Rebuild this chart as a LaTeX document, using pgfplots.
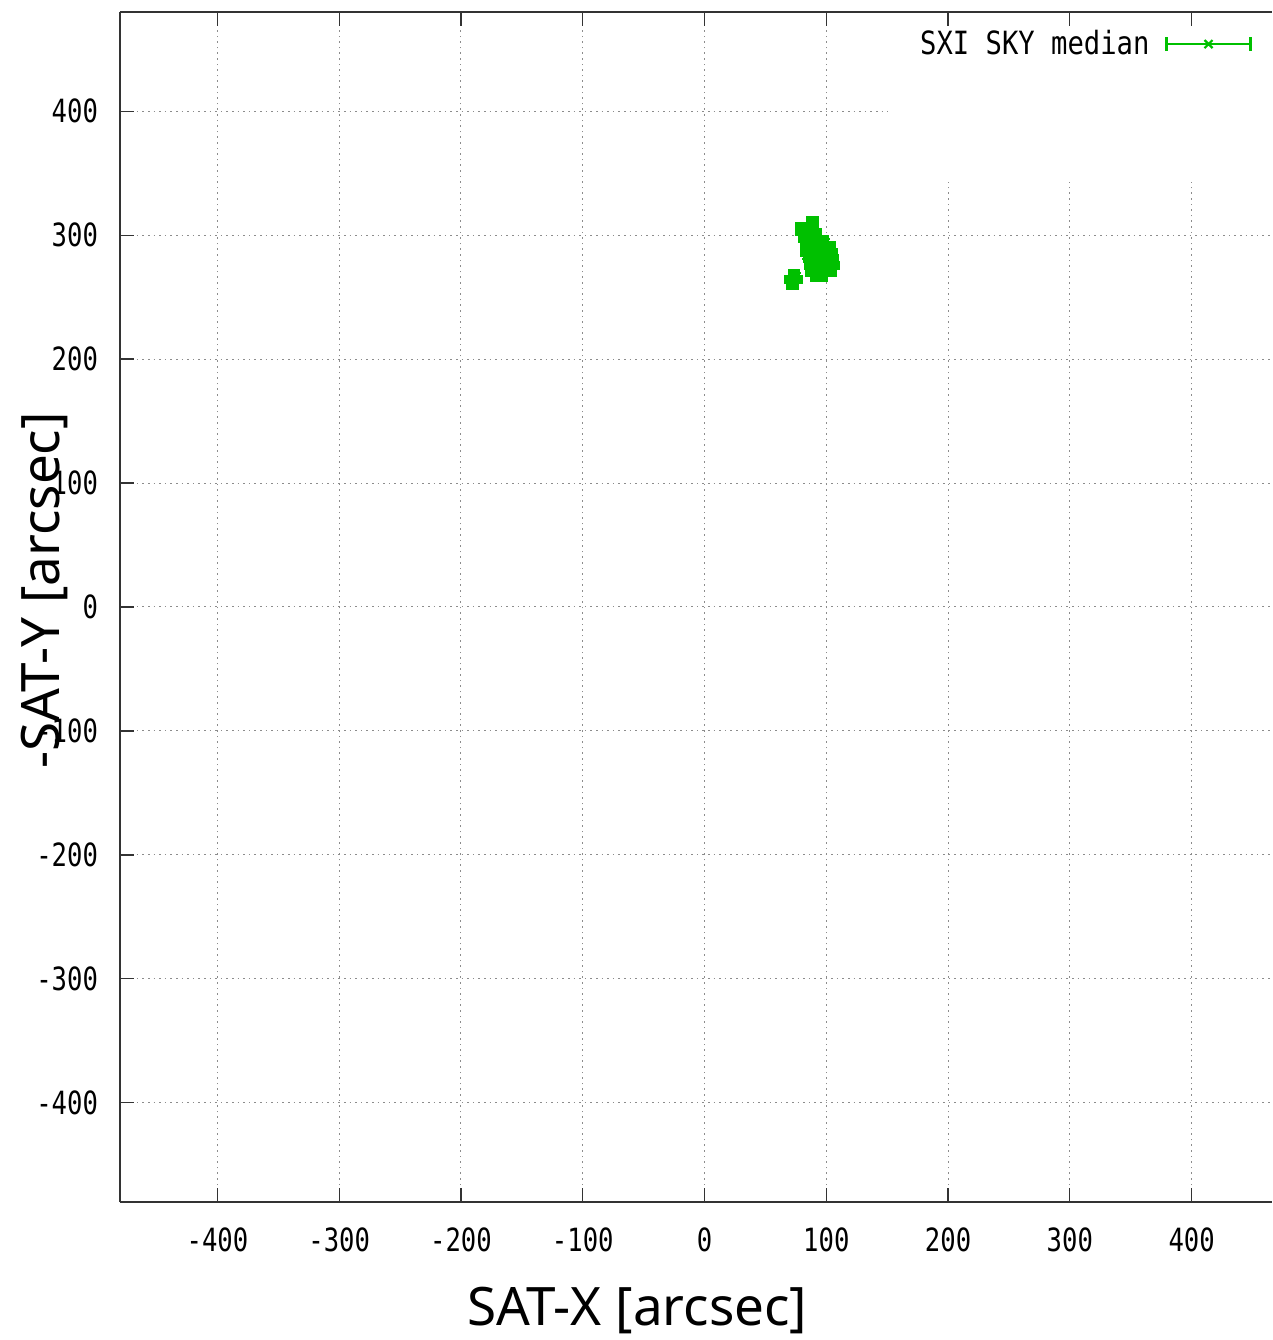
\documentclass[border=0pt]{standalone}
\usepackage{fontspec}
\usepackage{pgfplots}
\pgfplotsset{compat=1.18}
\newfontfamily\tickfont[FakeStretch=0.8]{DejaVu Sans Mono}
\newfontfamily\legfont[FakeStretch=0.85]{DejaVu Sans Mono}
\newfontfamily\labfont{Noto Sans}
\definecolor{gpgreen}{RGB}{0,192,0}
\definecolor{gridgray}{RGB}{140,140,140}
\begin{document}
\begin{tikzpicture}
\begin{axis}[
  scale only axis,
  width=576pt, height=595pt,
  xmin=-480, xmax=466, ymin=-480, ymax=480,
  axis x line*=box, axis y line*=left,
  axis line style={black!80, line width=0.6pt},
  tick align=inside,
  major tick length=7pt,
  tick style={black!80, line width=0.6pt},
  xtick pos=both, ytick pos=left,
  xtick={-400,-300,-200,-100,0,100,200,300,400},
  xticklabels={-400,-300,-200,-100,0,100,200,300,400},
  ytick={-400,-300,-200,-100,0,100,200,300,400},
  yticklabels={-400,-300,-200,-100,0,100,200,300,400},
  xticklabel style={font=\tickfont\fontsize{16}{18}\selectfont, yshift=-9.5pt},
  yticklabel style={font=\tickfont\fontsize{16}{18}\selectfont, xshift=-7.5pt},
  grid=major,
  major grid style={gridgray, line width=0.5pt, dash pattern=on 0.8pt off 2pt},
  xlabel={SAT-X [arcsec]},
  ylabel={-SAT-Y [arcsec]},
  xlabel style={font=\labfont\fontsize{26.5}{30}\selectfont, at={(axis description cs:0.449,0)}, anchor=center, yshift=-54pt},
  ylabel style={font=\labfont\fontsize{26.5}{30}\selectfont, at={(axis description cs:0,0.514)}, anchor=center, yshift=37.5pt},
  legend plot pos=right,
  legend style={draw=none, fill=none, inner sep=0pt, at={(rel axis cs:1,1)}, anchor=north east, xshift=-10pt, yshift=-7pt,
    font=\legfont\fontsize{16}{17}\selectfont,
    /tikz/every odd column/.append style={column sep=6pt}},
  legend image code/.code={
    \draw[gpgreen, line width=1.1pt] (0pt,0pt) -- (42pt,0pt);
    \draw[gpgreen, line width=1.1pt] (0pt,-3.5pt) -- (0pt,3.5pt);
    \draw[gpgreen, line width=1.1pt] (42pt,-3.5pt) -- (42pt,3.5pt);
    \draw[gpgreen, line width=1.1pt] (19pt,-2pt) -- (23pt,2pt) (19pt,2pt) -- (23pt,-2pt);
  },
]
\coordinate (sw) at (rel axis cs:0,0);
\coordinate (ne) at (rel axis cs:1,1);
\fill[white] (axis cs:151,343) rectangle (axis cs:466,469);
\addplot[gpgreen, only marks, mark=square*, mark size=1.9pt,
  mark options={draw=none, fill=gpgreen},
  error bars/.cd, x dir=both, x explicit,
  error bar style={gpgreen, line width=0.9pt},
  error mark=none]
table[x=x, y=y, x error=e] {
x y e
87 312 3
90 312 3
78 307.5 4
82 307.5 3
86 307.5 3
90 307.5 3
78 302.5 4
82 302.5 3
86 302.5 3
90 302.5 3
93 302.5 3
80 297 3
84 297 3
88 297 3
92 297 3
96 297 3
99 297 4
82 291.5 3
86 291.5 3
90 291.5 3
94 291.5 3
98 291.5 3
102 291.5 3
104 291.5 4
82 286 3
86 286 3
90 286 3
94 286 3
98 286 3
102 286 3
106 286 4
84 281 4
88 281 3
92 281 3
96 281 3
100 281 3
104 281 3
107 281 3
85 275.5 3
89 275.5 3
93 275.5 3
97 275.5 3
101 275.5 3
105 275.5 3
108 275.5 3
86 270 3
90 270 3
94 270 3
98 270 3
102 270 3
105 270 3
90 265.5 3
94 265.5 3
98 265.5 3
72 269.5 3
75 269.5 4
69 264.5 3
73 264.5 3
77 264.5 4
70 259.5 3
74 259.5 3
};
\addlegendentry{SXI SKY median}
\end{axis}
\pgfresetboundingbox
\useasboundingbox ([xshift=-60pt,yshift=-69pt]sw) rectangle ([yshift=6pt]ne);
\end{tikzpicture}
\end{document}
